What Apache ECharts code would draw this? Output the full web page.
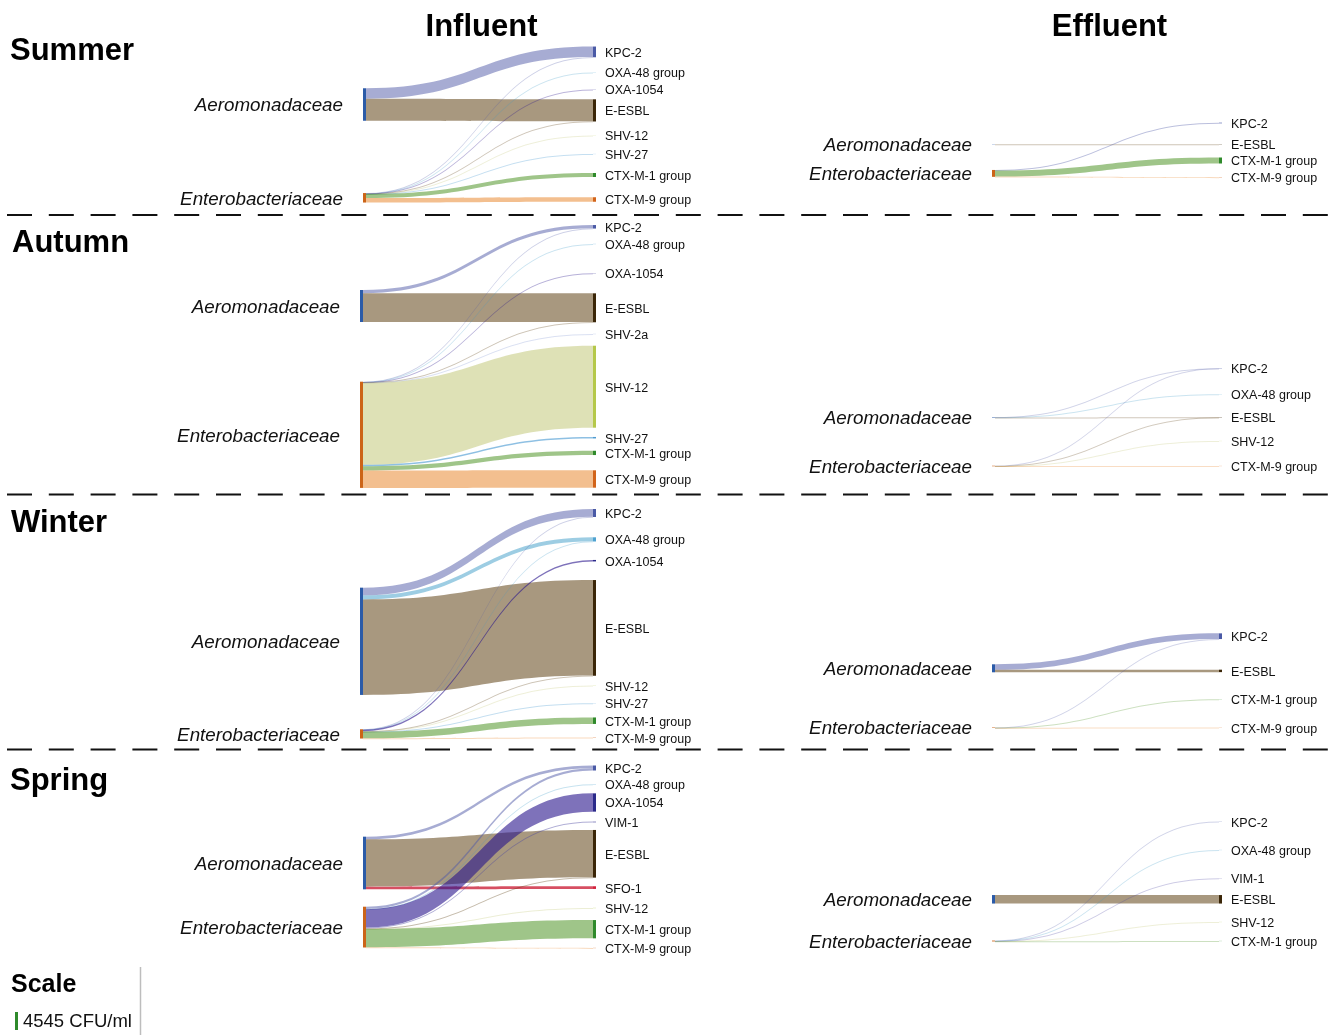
<!DOCTYPE html>
<html>
<head>
<meta charset="utf-8">
<script src="https://cdn.jsdelivr.net/npm/echarts@6/dist/echarts.min.js"></script>
<style>
  html, body { margin: 0; padding: 0; background: #ffffff; }
  #chart { width: 1340px; height: 1035px; }
</style>
</head>
<body>
<div id="chart"></div>
<script>
// Host families (left column of every panel)
const hosts = ['Aeromonadaceae', 'Enterobacteriaceae'];

// Resistance genes shown in each panel, top to bottom
const summerInfluentGenes = ['KPC-2', 'OXA-48 group', 'OXA-1054', 'E-ESBL', 'SHV-12', 'SHV-27', 'CTX-M-1 group', 'CTX-M-9 group'];
const summerEffluentGenes = ['KPC-2', 'E-ESBL', 'CTX-M-1 group', 'CTX-M-9 group'];
const autumnInfluentGenes = ['KPC-2', 'OXA-48 group', 'OXA-1054', 'E-ESBL', 'SHV-2a', 'SHV-12', 'SHV-27', 'CTX-M-1 group', 'CTX-M-9 group'];
const autumnEffluentGenes = ['KPC-2', 'OXA-48 group', 'E-ESBL', 'SHV-12', 'CTX-M-9 group'];
const winterInfluentGenes = ['KPC-2', 'OXA-48 group', 'OXA-1054', 'E-ESBL', 'SHV-12', 'SHV-27', 'CTX-M-1 group', 'CTX-M-9 group'];
const winterEffluentGenes = ['KPC-2', 'E-ESBL', 'CTX-M-1 group', 'CTX-M-9 group'];
const springInfluentGenes = ['KPC-2', 'OXA-48 group', 'OXA-1054', 'VIM-1', 'E-ESBL', 'SFO-1', 'SHV-12', 'CTX-M-1 group', 'CTX-M-9 group'];
const springEffluentGenes = ['KPC-2', 'OXA-48 group', 'VIM-1', 'E-ESBL', 'SHV-12', 'CTX-M-1 group'];

// Flows: [host, gene, CFU/ml]
const summerInfluentFlows = [
  ['Aeromonadaceae', 'KPC-2', 2650],
  ['Aeromonadaceae', 'E-ESBL', 5555],
  ['Enterobacteriaceae', 'KPC-2', 60],
  ['Enterobacteriaceae', 'OXA-48 group', 40],
  ['Enterobacteriaceae', 'OXA-1054', 40],
  ['Enterobacteriaceae', 'E-ESBL', 50],
  ['Enterobacteriaceae', 'SHV-12', 30],
  ['Enterobacteriaceae', 'SHV-27', 30],
  ['Enterobacteriaceae', 'CTX-M-1 group', 1010],
  ['Enterobacteriaceae', 'CTX-M-9 group', 1140]
];
const summerEffluentFlows = [
  ['Aeromonadaceae', 'E-ESBL', 60],
  ['Enterobacteriaceae', 'KPC-2', 150],
  ['Enterobacteriaceae', 'CTX-M-1 group', 1515],
  ['Enterobacteriaceae', 'CTX-M-9 group', 70]
];
const autumnInfluentFlows = [
  ['Aeromonadaceae', 'KPC-2', 830],
  ['Aeromonadaceae', 'E-ESBL', 7250],
  ['Enterobacteriaceae', 'KPC-2', 60],
  ['Enterobacteriaceae', 'OXA-48 group', 50],
  ['Enterobacteriaceae', 'OXA-1054', 50],
  ['Enterobacteriaceae', 'E-ESBL', 60],
  ['Enterobacteriaceae', 'SHV-2a', 50],
  ['Enterobacteriaceae', 'SHV-12', 20700],
  ['Enterobacteriaceae', 'SHV-27', 380],
  ['Enterobacteriaceae', 'CTX-M-1 group', 1085],
  ['Enterobacteriaceae', 'CTX-M-9 group', 4390]
];
const autumnEffluentFlows = [
  ['Aeromonadaceae', 'KPC-2', 40],
  ['Aeromonadaceae', 'OXA-48 group', 40],
  ['Aeromonadaceae', 'E-ESBL', 40],
  ['Enterobacteriaceae', 'KPC-2', 30],
  ['Enterobacteriaceae', 'E-ESBL', 30],
  ['Enterobacteriaceae', 'SHV-12', 30],
  ['Enterobacteriaceae', 'CTX-M-9 group', 40]
];
const winterInfluentFlows = [
  ['Aeromonadaceae', 'KPC-2', 1970],
  ['Aeromonadaceae', 'OXA-48 group', 1010],
  ['Aeromonadaceae', 'E-ESBL', 24110],
  ['Enterobacteriaceae', 'KPC-2', 60],
  ['Enterobacteriaceae', 'OXA-48 group', 50],
  ['Enterobacteriaceae', 'OXA-1054', 380],
  ['Enterobacteriaceae', 'E-ESBL', 60],
  ['Enterobacteriaceae', 'SHV-12', 40],
  ['Enterobacteriaceae', 'SHV-27', 40],
  ['Enterobacteriaceae', 'CTX-M-1 group', 1640],
  ['Enterobacteriaceae', 'CTX-M-9 group', 70]
];
const winterEffluentFlows = [
  ['Aeromonadaceae', 'KPC-2', 1400],
  ['Aeromonadaceae', 'E-ESBL', 620],
  ['Enterobacteriaceae', 'KPC-2', 40],
  ['Enterobacteriaceae', 'CTX-M-1 group', 40],
  ['Enterobacteriaceae', 'CTX-M-9 group', 40]
];
const springInfluentFlows = [
  ['Aeromonadaceae', 'KPC-2', 680],
  ['Aeromonadaceae', 'E-ESBL', 11940],
  ['Aeromonadaceae', 'SFO-1', 680],
  ['Enterobacteriaceae', 'KPC-2', 580],
  ['Enterobacteriaceae', 'OXA-48 group', 60],
  ['Enterobacteriaceae', 'OXA-1054', 4620],
  ['Enterobacteriaceae', 'VIM-1', 200],
  ['Enterobacteriaceae', 'E-ESBL', 100],
  ['Enterobacteriaceae', 'SHV-12', 60],
  ['Enterobacteriaceae', 'CTX-M-1 group', 4620],
  ['Enterobacteriaceae', 'CTX-M-9 group', 60]
];
const springEffluentFlows = [
  ['Aeromonadaceae', 'E-ESBL', 2150],
  ['Enterobacteriaceae', 'KPC-2', 40],
  ['Enterobacteriaceae', 'OXA-48 group', 40],
  ['Enterobacteriaceae', 'VIM-1', 50],
  ['Enterobacteriaceae', 'SHV-12', 40],
  ['Enterobacteriaceae', 'CTX-M-1 group', 40]
];

// Scale reference
const scaleValue = 4545;
const scaleUnit = 'CFU/ml';

// Text
const columnTitles = ['Influent', 'Effluent'];
const seasons = ['Summer', 'Autumn', 'Winter', 'Spring'];

// ---- layout & style ----
const FONT = '"Liberation Sans", Arial, Helvetica, sans-serif';
const PX_PER_UNIT = 18 / scaleValue;           // one common vertical scale for all panels

// Row bands [top, height]
const rowBands = [[40, 170], [220, 270], [500, 245], [755, 200]];
// Sankey boxes [left, width] of the two columns per row
const influentBoxes = [[363, 233], [360, 236], [360, 236], [363, 233]];
const effluentBox = [992, 230];

// Node placement: vertical centre of each node within its row band (hosts first, then genes)
const summerInfluentCenters = [64.5, 157.8, 11.9, 32.5, 49.5, 70.4, 95.5, 114, 135, 159.5];
const summerEffluentCenters = [104.3, 133.4, 83, 104.3, 120.5, 137.3];
const autumnInfluentCenters = [86, 214.8, 6.8, 24, 53.3, 87.8, 114, 166.7, 217.7, 232.9, 259];
const autumnEffluentCenters = [197.3, 246, 148.3, 174.3, 197.3, 221, 246];
const winterInfluentCenters = [141.3, 233.9, 13, 39.4, 60.7, 127.9, 185.7, 203.3, 220.7, 237.7];
const winterEffluentCenters = [168.3, 227.7, 136.2, 170.9, 199.3, 227.7];
const springInfluentCenters = [108, 172.1, 13, 29.3, 47.5, 67, 98.8, 132.6, 153, 174.2, 193];
const springEffluentCenters = [144.3, 186, 66.7, 95, 123.3, 144.3, 167, 186];

const nodeColor = {
  'Aeromonadaceae': '#2b5ba8',
  'Enterobacteriaceae': '#cc6418',
  'KPC-2': '#4a5aa6',
  'OXA-48 group': '#4fa3d1',
  'OXA-1054': '#2b2a8a',
  'VIM-1': '#6f6cb0',
  'E-ESBL': '#3b2608',
  'SFO-1': '#d3203c',
  'SHV-2a': '#8ea0d8',
  'SHV-12': '#b5c84a',
  'SHV-27': '#4f9bd0',
  'CTX-M-1 group': '#2f8a2b',
  'CTX-M-9 group': '#d2641a'
};
// Ribbon colour and opacity, by gene
const ribbonStyle = {
  'KPC-2': ['#5059a8', 0.5],
  'OXA-48 group': ['#3c9bc8', 0.5],
  'OXA-1054': ['#28148c', 0.6],
  'VIM-1': ['#4a45a0', 0.5],
  'E-ESBL': ['#523200', 0.5],
  'SFO-1': ['#c8142d', 0.75],
  'SHV-2a': ['#7a8ed2', 0.5],
  'SHV-12': ['#bec36e', 0.5],
  'SHV-27': ['#1e82c8', 0.5],
  'CTX-M-1 group': ['#408c14', 0.5],
  'CTX-M-9 group': ['#e88020', 0.5]
};

const hostLabel = {
  show: true, position: 'left', distance: 20, offset: [0, 1.5],
  fontFamily: FONT, fontSize: 18.8, fontStyle: 'italic', color: '#111'
};
const geneLabel = {
  show: true, position: 'right', distance: 9, offset: [0, 1.5],
  fontFamily: FONT, fontSize: 12.5, color: '#111'
};

// Ribbons thinner than a pixel are still drawn 1px wide, so fade them by their true width
function ribbonOpacity(gene, value) {
  const w = value * PX_PER_UNIT;
  return ribbonStyle[gene][1] * Math.min(1, 0.45 + 0.55 * w);
}

function sankeyPanel(flows, genes, centers, band, box) {
  const total = flows.reduce((s, f) => s + f[2], 0);
  const height = band[1];
  // gap chosen so that the gene column fills the band at the common scale
  const gap = (height - total * PX_PER_UNIT) / (genes.length - 1);
  const names = hosts.concat(genes);
  const nodeTotal = name => flows
    .filter(f => f[0] === name || f[1] === name)
    .reduce((s, f) => s + f[2], 0);
  const data = names.map((name, i) => {
    const h = nodeTotal(name) * PX_PER_UNIT;
    return {
      name: name,
      localY: (centers[i] - h / 2) / height,
      itemStyle: { color: nodeColor[name], borderWidth: 0 },
      label: i < hosts.length ? hostLabel : geneLabel
    };
  });
  const links = flows.map(f => ({
    source: f[0], target: f[1], value: f[2],
    lineStyle: { color: ribbonStyle[f[1]][0], opacity: ribbonOpacity(f[1], f[2]), curveness: 0.5 }
  }));
  return {
    type: 'sankey',
    left: box[0], top: band[0], width: box[1], height: height,
    nodeWidth: 3,
    nodeGap: gap,
    nodeAlign: 'justify',
    layoutIterations: 0,
    draggable: false,
    silent: true,
    animation: false,
    emphasis: { disabled: true },
    itemStyle: { borderWidth: 0 },
    data: data,
    links: links
  };
}

const series = [
  sankeyPanel(summerInfluentFlows, summerInfluentGenes, summerInfluentCenters, rowBands[0], influentBoxes[0]),
  sankeyPanel(summerEffluentFlows, summerEffluentGenes, summerEffluentCenters, rowBands[0], effluentBox),
  sankeyPanel(autumnInfluentFlows, autumnInfluentGenes, autumnInfluentCenters, rowBands[1], influentBoxes[1]),
  sankeyPanel(autumnEffluentFlows, autumnEffluentGenes, autumnEffluentCenters, rowBands[1], effluentBox),
  sankeyPanel(winterInfluentFlows, winterInfluentGenes, winterInfluentCenters, rowBands[2], influentBoxes[2]),
  sankeyPanel(winterEffluentFlows, winterEffluentGenes, winterEffluentCenters, rowBands[2], effluentBox),
  sankeyPanel(springInfluentFlows, springInfluentGenes, springInfluentCenters, rowBands[3], influentBoxes[3]),
  sankeyPanel(springEffluentFlows, springEffluentGenes, springEffluentCenters, rowBands[3], effluentBox)
];

// Headings, season names, separators and the scale key
const graphic = [];
[[481.5, columnTitles[0]], [1109.5, columnTitles[1]]].forEach(([x, t]) => {
  graphic.push({
    type: 'text', x: x, y: 27.5, silent: true,
    style: { text: t, fontFamily: FONT, fontSize: 31, fontWeight: 'bold', fill: '#000',
             textAlign: 'center', textVerticalAlign: 'middle' }
  });
});
[[10, 51], [12, 243], [11, 523], [10, 781]].forEach(([x, y], i) => {
  graphic.push({
    type: 'text', x: x, y: y, silent: true,
    style: { text: seasons[i], fontFamily: FONT, fontSize: 31, fontWeight: 'bold', fill: '#000',
             textAlign: 'left', textVerticalAlign: 'middle' }
  });
});
[215, 494.5, 749.5].forEach(y => {
  graphic.push({
    type: 'line', silent: true,
    shape: { x1: 7, y1: y, x2: 1336, y2: y },
    style: { stroke: '#111', lineWidth: 2, lineDash: [25, 16.8] }
  });
});
graphic.push({
  type: 'text', x: 11, y: 985, silent: true,
  style: { text: 'Scale', fontFamily: FONT, fontSize: 25, fontWeight: 'bold', fill: '#000',
           textAlign: 'left', textVerticalAlign: 'middle' }
});
graphic.push({
  type: 'rect', silent: true,
  shape: { x: 15, y: 1030 - scaleValue * PX_PER_UNIT, width: 3, height: scaleValue * PX_PER_UNIT },
  style: { fill: nodeColor['CTX-M-1 group'] }
});
graphic.push({
  type: 'text', x: 23, y: 1022, silent: true,
  style: { text: scaleValue + ' ' + scaleUnit, fontFamily: FONT, fontSize: 18.5, fill: '#111',
           textAlign: 'left', textVerticalAlign: 'middle' }
});
graphic.push({
  type: 'line', silent: true,
  shape: { x1: 140.5, y1: 967, x2: 140.5, y2: 1035 },
  style: { stroke: '#bdbdbd', lineWidth: 1.5 }
});

const chart = echarts.init(document.getElementById('chart'), null, { renderer: 'canvas' });
chart.setOption({
  backgroundColor: '#ffffff',
  animation: false,
  series: series,
  graphic: graphic
});
</script>
</body>
</html>
